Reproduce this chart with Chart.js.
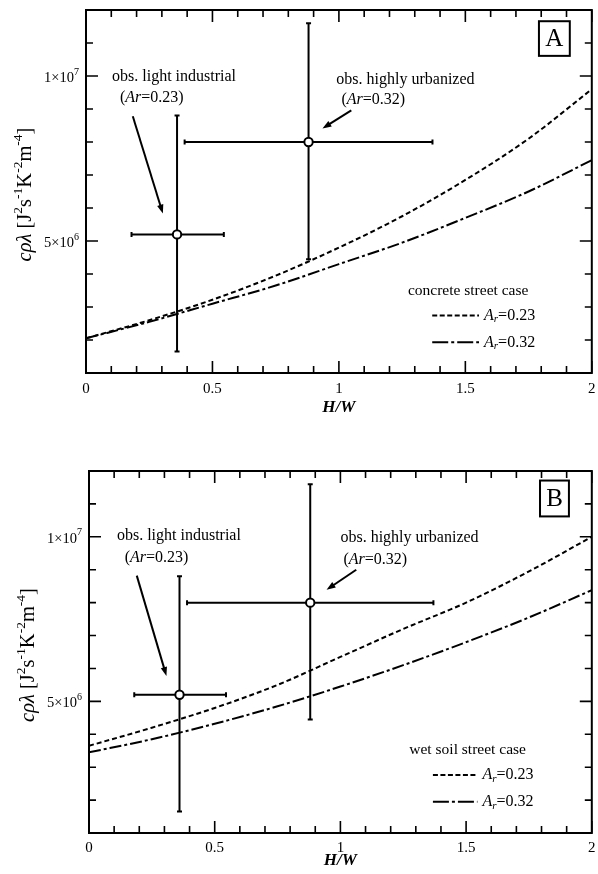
<!DOCTYPE html>
<html><head><meta charset="utf-8">
<script src="https://cdn.jsdelivr.net/npm/chart.js@4.4.1/dist/chart.umd.min.js"></script>
<style>
html,body{margin:0;padding:0;background:#fff;}
canvas{position:absolute;left:0;}
</style></head><body>
<canvas id="cA" width="598" height="437" style="top:0"></canvas>
<canvas id="cB" width="598" height="437" style="top:437px"></canvas>
<script>
const FONT = '"Liberation Serif", "Times New Roman", serif';

// ---- data ----
const hwGrid        = [0, 0.25, 0.5, 0.75, 1, 1.25, 1.5, 1.75, 2];
const concreteAr023 = [2.05e6, 2.6e6, 3.22e6, 3.95e6, 4.8e6, 5.75e6, 6.85e6, 8.1e6, 9.6e6];
const concreteAr032 = [2.05e6, 2.55e6, 3.1e6, 3.65e6, 4.3e6, 4.95e6, 5.7e6, 6.5e6, 7.45e6];
const wetSoilAr023  = [3.65e6, 4.2e6, 4.8e6, 5.5e6, 6.35e6, 7.2e6, 8.0e6, 8.95e6, 1.0e7];
const wetSoilAr032  = [3.45e6, 3.85e6, 4.32e6, 4.85e6, 5.45e6, 6.1e6, 6.8e6, 7.55e6, 8.38e6];

const obsNames   = ['obs. light industrial', 'obs. highly urbanized'];
const obsAr      = ['0.23', '0.32'];
const obsHW      = [0.36, 0.88];
const obsHWLow   = [0.18, 0.39];
const obsHWHigh  = [0.545, 1.37];
const obsVal     = [5.2e6, 8.0e6];
const obsValLow  = [1.65e6, 4.45e6];
const obsValHigh = [8.8e6, 1.16e7];

const seriesAr   = ['0.23', '0.32'];
const xMajorTicks = [0, 0.5, 1, 1.5, 2];
const xTickLabels = ['0', '0.5', '1', '1.5', '2'];
const yLabelValues = [5e6, 1e7];
const yLabelBase   = ['5×10', '1×10'];
const yLabelExp    = ['6', '7'];
const xTitle = 'H/W';

const panels = [
  {id:'cA', tag:'A', legendTitle:'concrete street case', s023:concreteAr023, s032:concreteAr032,
   pad:{top:10, right:5}, yW:86, xH:64, tickPad:7, xTitleOff:35, yTitleDx:60,
   obsText:[[0.103,9.98e6],[0.990,9.89e6]], arText:[[0.134,9.35e6],[1.010,9.29e6]],
   arrows:[[[0.185,8.78e6],[0.304,5.83e6]],[[1.049,8.96e6],[0.935,8.41e6]]],
   legTitle:[1.511,3.49e6], legLine:[1.369,1.554], legY:[2.74e6,1.93e6], legTextX:1.574,
   box:[1.791,1.166e7,1.913,1.061e7]},
  {id:'cB', tag:'B', legendTitle:'wet soil street case', s023:wetSoilAr023, s032:wetSoilAr032,
   pad:{top:34, right:4}, yW:89, xH:41, tickPad:6, xTitleOff:28, yTitleDx:60,
   obsText:[[0.111,1.002e7],[1.0,9.96e6]], arText:[[0.142,9.36e6],[1.012,9.30e6]],
   arrows:[[[0.190,8.82e6],[0.308,5.77e6]],[[1.063,9.0e6],[0.945,8.39e6]]],
   legTitle:[1.506,3.52e6], legLine:[1.368,1.545], legY:[2.76e6,1.95e6], legTextX:1.565,
   box:[1.794,1.171e7,1.909,1.062e7]}
];

const DASH = [5, 3];
const DASHDOT = [12, 3, 3, 3];

function fontOf(s){ return (s.it ? 'italic ' : '') + (s.b ? 'bold ' : '') + (s.size || 16) + 'px ' + FONT; }
function rich(ctx, x, y, segs, align){
  ctx.textBaseline = 'middle'; ctx.textAlign = 'left';
  let w = 0;
  segs.forEach(s => { ctx.font = fontOf(s); s.w = ctx.measureText(s.t).width; w += s.w; });
  let cx = align === 'center' ? x - w/2 : (align === 'right' ? x - w : x);
  segs.forEach(s => { ctx.font = fontOf(s); ctx.fillText(s.t, cx, y + (s.dy || 0)); cx += s.w; });
}
function seg(t, o){ return Object.assign({t}, o || {}); }

function makePanel(p){
  const pts = arr => hwGrid.map((x,i) => ({x, y: arr[i]}));
  const overlay = {
    id: 'overlay',
    beforeDatasetsDraw(chart){
      const {ctx, scales:{x, y}} = chart;
      ctx.save(); ctx.strokeStyle = '#000'; ctx.lineWidth = 2; ctx.lineCap = 'butt';
      for (let i = 0; i < obsHW.length; i++){
        const px = x.getPixelForValue(obsHW[i]), py = y.getPixelForValue(obsVal[i]);
        const x0 = x.getPixelForValue(obsHWLow[i]), x1 = x.getPixelForValue(obsHWHigh[i]);
        const y0 = y.getPixelForValue(obsValLow[i]), y1 = y.getPixelForValue(obsValHigh[i]);
        ctx.beginPath();
        ctx.moveTo(x0, py); ctx.lineTo(x1, py);
        ctx.moveTo(px, y0); ctx.lineTo(px, y1);
        ctx.moveTo(x0, py-2.5); ctx.lineTo(x0, py+2.5);
        ctx.moveTo(x1, py-2.5); ctx.lineTo(x1, py+2.5);
        ctx.moveTo(px-2.5, y0); ctx.lineTo(px+2.5, y0);
        ctx.moveTo(px-2.5, y1); ctx.lineTo(px+2.5, y1);
        ctx.stroke();
      }
      ctx.restore();
    },
    afterDraw(chart){
      const {ctx, chartArea:a, scales:{x, y}} = chart;
      const X = v => x.getPixelForValue(v), Y = v => y.getPixelForValue(v);
      ctx.save();
      ctx.strokeStyle = '#000'; ctx.fillStyle = '#000';
      // frame
      ctx.lineWidth = 2;
      ctx.strokeRect(a.left, a.top, a.right - a.left, a.bottom - a.top);
      // inward ticks
      ctx.lineWidth = 1.6;
      ctx.beginPath();
      x.ticks.forEach(t => {
        const px = X(t.value);
        const major = xMajorTicks.some(m => Math.abs(m - t.value) < 1e-9);
        const L = major ? 12 : 7;
        ctx.moveTo(px, a.bottom); ctx.lineTo(px, a.bottom - L);
        ctx.moveTo(px, a.top); ctx.lineTo(px, a.top + L);
      });
      y.ticks.forEach(t => {
        const py = Y(t.value);
        const major = yLabelValues.some(m => Math.abs(m - t.value) < 1);
        const L = major ? 12 : 7;
        ctx.moveTo(a.left, py); ctx.lineTo(a.left + L, py);
        ctx.moveTo(a.right, py); ctx.lineTo(a.right - L, py);
      });
      ctx.stroke();
      // y tick labels
      yLabelValues.forEach((v, i) => {
        const py = Y(v) + 2;
        ctx.font = fontOf({size:10});
        const ew = ctx.measureText(yLabelExp[i]).width;
        const right = a.left - 7;
        rich(ctx, right - ew, py, [seg(yLabelBase[i], {size:14.5})], 'right');
        rich(ctx, right - ew, py - 6, [seg(yLabelExp[i], {size:10})], 'left');
      });
      // axis titles
      rich(ctx, (a.left + a.right)/2, a.bottom + p.xTitleOff, [seg(xTitle, {it:1, b:1, size:17})], 'center');
      ctx.save();
      ctx.translate(a.left - p.yTitleDx, (a.top + a.bottom)/2 + 3);
      ctx.rotate(-Math.PI/2);
      const S = 20.5, s = 13.5, up = -7.5;
      rich(ctx, 0, 0, [seg('cρλ', {it:1, size:S}), seg(' [J', {size:S}), seg('2', {size:s, dy:up}),
        seg('s', {size:S}), seg('-1', {size:s, dy:up}), seg('K', {size:S}), seg('-2', {size:s, dy:up}),
        seg('m', {size:S}), seg('-4', {size:s, dy:up}), seg(']', {size:S})], 'center');
      ctx.restore();
      // observation annotations
      for (let i = 0; i < obsNames.length; i++){
        rich(ctx, X(p.obsText[i][0]), Y(p.obsText[i][1]), [seg(obsNames[i], {size:16})], 'left');
        rich(ctx, X(p.arText[i][0]), Y(p.arText[i][1]),
          [seg('(', {size:16}), seg('Ar', {it:1, size:16}), seg('=' + obsAr[i] + ')', {size:16})], 'left');
        const [s0, s1] = p.arrows[i];
        const ax0 = X(s0[0]), ay0 = Y(s0[1]), ax1 = X(s1[0]), ay1 = Y(s1[1]);
        const ang = Math.atan2(ay1 - ay0, ax1 - ax0);
        const hl = 9, hw = 3.2;
        ctx.lineWidth = 2;
        ctx.beginPath(); ctx.moveTo(ax0, ay0);
        ctx.lineTo(ax1 - Math.cos(ang)*hl*0.8, ay1 - Math.sin(ang)*hl*0.8); ctx.stroke();
        ctx.beginPath();
        ctx.moveTo(ax1, ay1);
        ctx.lineTo(ax1 - Math.cos(ang)*hl - Math.sin(ang)*hw, ay1 - Math.sin(ang)*hl + Math.cos(ang)*hw);
        ctx.lineTo(ax1 - Math.cos(ang)*hl + Math.sin(ang)*hw, ay1 - Math.sin(ang)*hl - Math.cos(ang)*hw);
        ctx.closePath(); ctx.fill();
      }
      // legend
      rich(ctx, X(p.legTitle[0]), Y(p.legTitle[1]), [seg(p.legendTitle, {size:15.5})], 'center');
      chart.data.datasets.slice(0, 2).forEach((ds, i) => {
        const ly = Y(p.legY[i]);
        ctx.save(); ctx.lineWidth = 2; ctx.setLineDash(i === 0 ? [5, 2.5] : [16, 3, 3, 3]);
        ctx.beginPath(); ctx.moveTo(X(p.legLine[0]), ly); ctx.lineTo(X(p.legLine[1]), ly); ctx.stroke();
        ctx.restore();
        rich(ctx, X(p.legTextX), ly, [seg('A', {it:1, size:16}), seg('r', {it:1, size:11, dy:4}),
          seg('=' + seriesAr[i], {size:16})], 'left');
      });
      // panel tag box
      const bx0 = X(p.box[0]), by0 = Y(p.box[1]), bx1 = X(p.box[2]), by1 = Y(p.box[3]);
      ctx.lineWidth = 2;
      ctx.strokeRect(bx0, by0, bx1 - bx0, by1 - by0);
      rich(ctx, (bx0 + bx1)/2, (by0 + by1)/2 + 1, [seg(p.tag, {size:25})], 'center');
      ctx.restore();
    }
  };

  return new Chart(document.getElementById(p.id), {
    type: 'line',
    data: {
      datasets: [
        {label: 'Ar=' + seriesAr[0], data: pts(p.s023), borderColor:'#000', borderWidth:2, borderDash:DASH,
         pointRadius:0, cubicInterpolationMode:'monotone', fill:false},
        {label: 'Ar=' + seriesAr[1], data: pts(p.s032), borderColor:'#000', borderWidth:2, borderDash:DASHDOT,
         pointRadius:0, cubicInterpolationMode:'monotone', fill:false},
        {type:'scatter', label:'obs', data: obsHW.map((x,i) => ({x, y: obsVal[i]})),
         pointRadius:4.2, pointBackgroundColor:'#fff', pointBorderColor:'#000', pointBorderWidth:2, showLine:false}
      ]
    },
    options: {
      responsive:false, animation:false, devicePixelRatio:1,
      layout:{padding:{top:p.pad.top, right:p.pad.right, left:0, bottom:0}},
      plugins:{legend:{display:false}, tooltip:{enabled:false}},
      scales:{
        x:{type:'linear', min:0, max:2,
           grid:{display:false, drawTicks:false}, border:{display:false},
           ticks:{stepSize:0.1, autoSkip:false, maxRotation:0, padding:p.tickPad, color:'#000',
                  font:{family:FONT, size:15},
                  callback: v => { const i = xMajorTicks.findIndex(m => Math.abs(m - v) < 1e-9); return i >= 0 ? xTickLabels[i] : ''; }},
           afterFit: s => { s.height = p.xH; s.paddingLeft = 0; s.paddingRight = 0; }},
        y:{type:'linear', min:1e6, max:1.2e7,
           grid:{display:false, drawTicks:false}, border:{display:false},
           ticks:{stepSize:1e6, display:false},
           afterFit: s => { s.width = p.yW; s.paddingTop = 0; s.paddingBottom = 0; }}
      }
    },
    plugins:[overlay]
  });
}
panels.forEach(makePanel);
</script></body></html>
